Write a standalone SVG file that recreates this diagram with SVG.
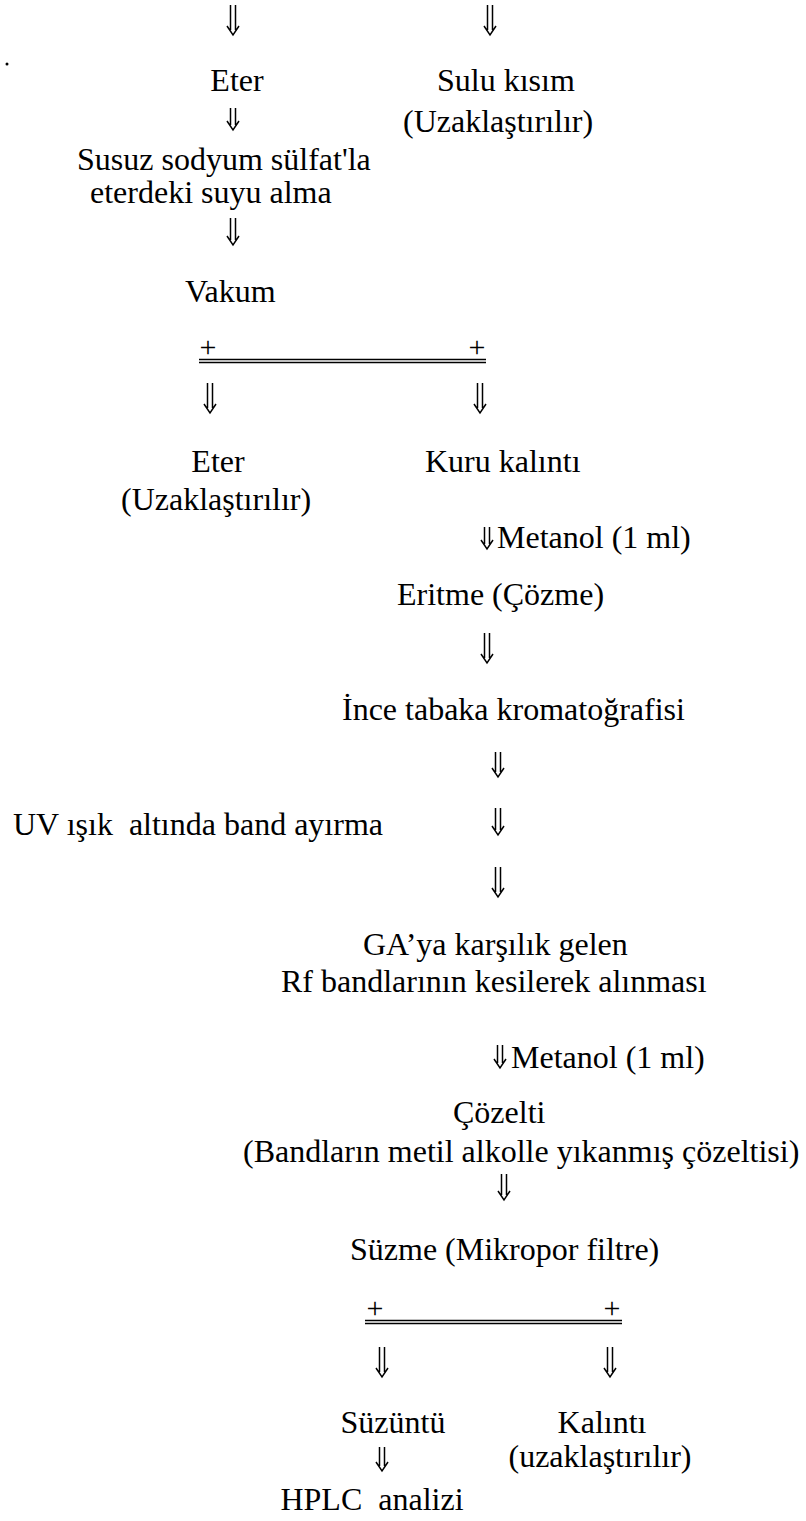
<svg xmlns="http://www.w3.org/2000/svg" width="806" height="1521" viewBox="0 0 806 1521">
<style>
text{font-family:"Liberation Serif","Times New Roman",serif;font-size:32px;fill:#000}
.c{text-anchor:middle}
.plus{font-size:30px;text-anchor:middle}
.arr{fill:none;stroke:#000;stroke-width:1.5;stroke-linejoin:miter}
.dl{stroke:#000;stroke-width:1.6}
</style>
<rect width="806" height="1521" fill="#fff"/>
<circle cx="7" cy="64" r="1.5" fill="#000"/>
<g id="connectors">
<path class="arr" d="M230.5,5V30M235.5,5V30M227,26L233,35L239,26"/>
<path class="arr" d="M487.5,5V30M492.5,5V30M484,26L490,35L496,26"/>
<path class="arr" d="M230.5,108V125M235.5,108V125M227,121L233,130L239,121"/>
<path class="arr" d="M230.5,218V240M235.5,218V240M227,236L233,245L239,236"/>
<g id="split1">
<line class="dl" x1="199" y1="359.5" x2="486" y2="359.5"/>
<line class="dl" x1="199" y1="362.5" x2="486" y2="362.5"/>
</g>
<path class="arr" d="M207.5,383V408M212.5,383V408M204,404L210,413L216,404"/>
<path class="arr" d="M477.5,383V408M482.5,383V408M474,404L480,413L486,404"/>
<path class="arr" d="M484.5,527V544M489.5,527V544M481,540L487,549L493,540"/>
<path class="arr" d="M484.5,633V658M489.5,633V658M481,654L487,663L493,654"/>
<path class="arr" d="M495.5,752V772M500.5,752V772M492,768L498,777L504,768"/>
<path class="arr" d="M495.5,808V830M500.5,808V830M492,826L498,835L504,826"/>
<path class="arr" d="M495.5,867V892M500.5,867V892M492,888L498,897L504,888"/>
<path class="arr" d="M497.5,1045V1063M502.5,1045V1063M494,1059L500,1068L506,1059"/>
<path class="arr" d="M501.5,1174V1195M506.5,1174V1195M498,1191L504,1200L510,1191"/>
<g id="split2">
<line class="dl" x1="365" y1="1320.5" x2="622" y2="1320.5"/>
<line class="dl" x1="365" y1="1323.5" x2="622" y2="1323.5"/>
</g>
<path class="arr" d="M379.5,1347V1372M384.5,1347V1372M376,1368L382,1377L388,1368"/>
<path class="arr" d="M607.5,1347V1372M612.5,1347V1372M604,1368L610,1377L616,1368"/>
<path class="arr" d="M379.5,1447V1466M384.5,1447V1466M376,1462L382,1471L388,1462"/>
</g>
<g id="n_eter1"><text class="c" x="237" y="91">Eter</text></g>
<g id="n_sulu"><text x="437" y="91">Sulu kısım</text><text x="403" y="132">(Uzaklaştırılır)</text></g>
<g id="n_susuz"><text x="77" y="170">Susuz sodyum sülfat'la</text><text x="90" y="203">eterdeki suyu alma</text></g>
<g id="n_vakum"><text x="185" y="302">Vakum</text></g>
<g id="n_plus1"><text class="plus" x="208" y="357">+</text><text class="plus" x="477" y="357">+</text></g>
<g id="n_eter2"><text class="c" x="218" y="472">Eter</text><text x="121" y="510">(Uzaklaştırılır)</text></g>
<g id="n_kuru"><text x="425" y="472">Kuru kalıntı</text></g>
<g id="n_metanol1"><text x="497" y="548">Metanol (1 ml)</text></g>
<g id="n_eritme"><text x="397" y="605">Eritme (Çözme)</text></g>
<g id="n_ince"><text x="342" y="720">İnce tabaka kromatoğrafisi</text></g>
<g id="n_uv"><text x="13" y="835" xml:space="preserve">UV ışık  altında band ayırma</text></g>
<g id="n_ga"><text x="363" y="955">GA’ya karşılık gelen</text><text x="281" y="992">Rf bandlarının kesilerek alınması</text></g>
<g id="n_metanol2"><text x="511" y="1068">Metanol (1 ml)</text></g>
<g id="n_cozelti"><text x="453" y="1123">Çözelti</text><text x="243" y="1162">(Bandların metil alkolle yıkanmış çözeltisi)</text></g>
<g id="n_suzme"><text x="350" y="1260">Süzme (Mikropor filtre)</text></g>
<g id="n_plus2"><text class="plus" x="375" y="1318">+</text><text class="plus" x="612" y="1318">+</text></g>
<g id="n_suzuntu"><text class="c" x="393" y="1433">Süzüntü</text></g>
<g id="n_kalinti"><text class="c" x="602" y="1433">Kalıntı</text><text class="c" x="600" y="1467">(uzaklaştırılır)</text></g>
<g id="n_hplc"><text class="c" x="372" y="1510" xml:space="preserve">HPLC  analizi</text></g>
</svg>
